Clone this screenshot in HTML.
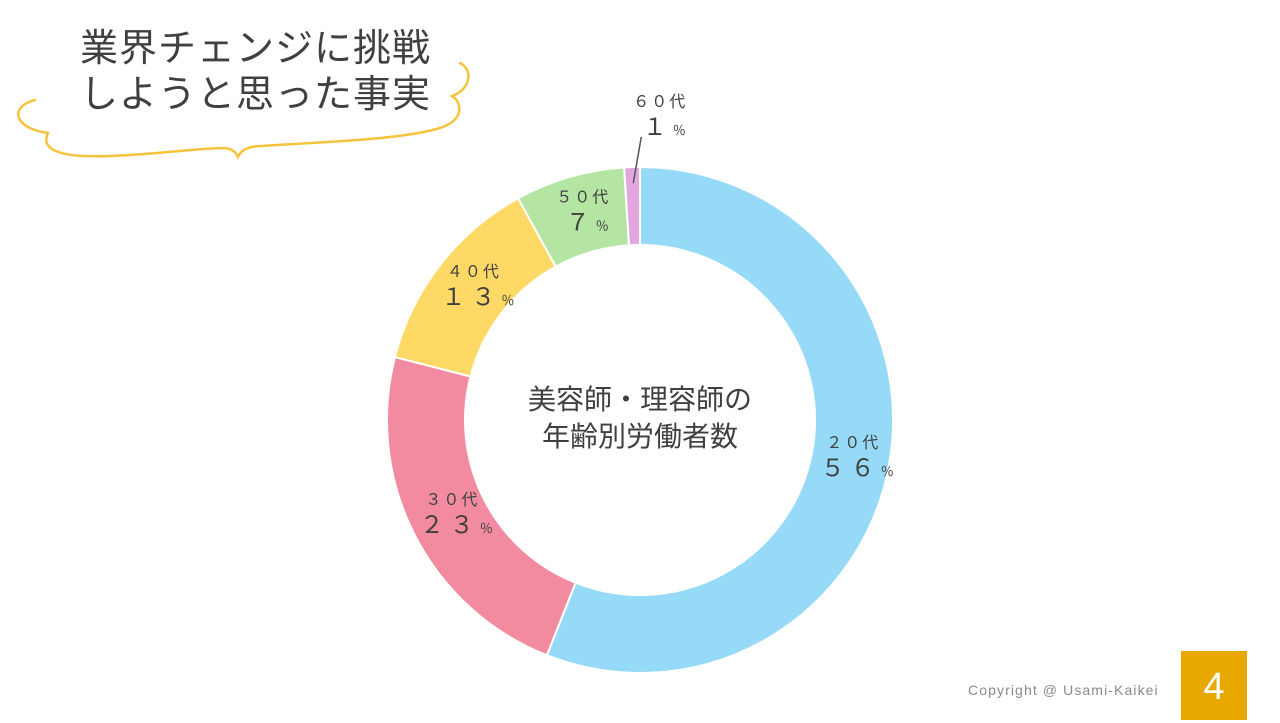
<!DOCTYPE html>
<html><head><meta charset="utf-8">
<style>
html,body{margin:0;padding:0;background:#fff;}
body{width:1280px;height:720px;position:relative;overflow:hidden;font-family:"Liberation Sans","Noto Sans CJK JP",sans-serif;color:#404040;}
.title{position:absolute;left:80px;top:26px;font-size:38px;line-height:46px;color:#404040;letter-spacing:1px;}
.copy{position:absolute;left:968px;top:682px;font-size:14px;color:#8a8a8a;letter-spacing:1.1px;}
.page{position:absolute;left:1181px;top:651px;width:66px;height:69px;background:#E9A800;color:#fff;font-size:38px;text-align:center;line-height:72px;}
</style></head><body>
<svg width="1280" height="720" style="position:absolute;left:0;top:0">
<path d="M35,100 C10,106 12,128 48,133 C40,150 60,158 110,156 C160,154 200,148 225,148 C232,149 236,152 238,157 C241,150 248,146 262,146 C320,142 400,140 440,128 C465,120 462,102 452,96 C470,90 474,70 460,63" fill="none" stroke="#F6C43C" stroke-width="2.5" stroke-linecap="round"/>
</svg>
<div class="title">業界チェンジに挑戦<br>しようと思った事実</div>
<svg id="chart" width="1280" height="720" style="position:absolute;left:0;top:0"></svg>
<div class="copy">Copyright @ Usami-Kaikei</div>
<div class="page">4</div>
<script>
const categories = ["２０代","３０代","４０代","５０代","６０代"];
const values = [56, 23, 13, 7, 1];
const valueLabels = ["５６","２３","１３","７","１"];
const colors = ["#97DAF7","#F28BA0","#FFD966","#B4E5A2","#E3A6E0"];
const NS="http://www.w3.org/2000/svg";
const svg=document.getElementById('chart');
const cx=640, cy=420, R=253, r=175;
const total=values.reduce((a,b)=>a+b,0);
function pt(rad,frac){const a=frac*2*Math.PI;return [cx+rad*Math.sin(a), cy-rad*Math.cos(a)];}
let acc=0;
values.forEach((v,i)=>{
  const f0=acc/total, f1=(acc+v)/total; acc+=v;
  const large=(f1-f0)>0.5?1:0;
  const [x0,y0]=pt(R,f0),[x1,y1]=pt(R,f1),[x2,y2]=pt(r,f1),[x3,y3]=pt(r,f0);
  const p=document.createElementNS(NS,'path');
  p.setAttribute('d',`M${x0},${y0} A${R},${R} 0 ${large} 1 ${x1},${y1} L${x2},${y2} A${r},${r} 0 ${large} 0 ${x3},${y3} Z`);
  p.setAttribute('fill',colors[i]);p.setAttribute('stroke','#fff');p.setAttribute('stroke-width','2');
  
  
  svg.appendChild(p);
  const fm=(f0+f1)/2;
  let lx,ly;
  if(v/total<0.03){
    const [ax,ay]=pt(R-(R-r)*0.5,fm);
    lx=ax+27; ly=cy-R-60;
    const ln=document.createElementNS(NS,'line');
    ln.setAttribute('x1',ax);ln.setAttribute('y1',ay-23);ln.setAttribute('x2',ax+8);ln.setAttribute('y2',ly+30);
    ln.setAttribute('stroke','#555');ln.setAttribute('stroke-width','1.5');
    
    
    svg.appendChild(ln);
  } else {
    [lx,ly]=pt((R+r)/2,fm); ly-=12; lx+=3;
  }
  const t1=document.createElementNS(NS,'text');
  t1.setAttribute('x',lx);t1.setAttribute('y',ly);t1.setAttribute('text-anchor','middle');
  t1.setAttribute('font-size','16');t1.setAttribute('fill','#404040');t1.setAttribute('letter-spacing','2');
  t1.setAttribute('font-family','"Liberation Sans","Noto Sans CJK JP",sans-serif');
  t1.textContent=categories[i];
  
  
  svg.appendChild(t1);
  const t2=document.createElementNS(NS,'text');
  t2.setAttribute('x',lx+4);t2.setAttribute('y',ly+28);t2.setAttribute('text-anchor','middle');
  t2.setAttribute('font-size','24');t2.setAttribute('fill','#404040');t2.setAttribute('letter-spacing','6');
  t2.setAttribute('font-family','"Liberation Sans","Noto Sans CJK JP",sans-serif');
  t2.innerHTML=valueLabels[i]+'<tspan font-size="13" letter-spacing="0">％</tspan>';
  
  
  svg.appendChild(t2);
});
["美容師・理容師の","年齢別労働者数"].forEach((s,k)=>{
  const t=document.createElementNS(NS,'text');
  t.setAttribute('x',cx);t.setAttribute('y',cy-11+k*37);t.setAttribute('text-anchor','middle');
  t.setAttribute('font-size','28');t.setAttribute('fill','#404040');
  t.setAttribute('font-family','"Liberation Sans","Noto Sans CJK JP",sans-serif');
  t.textContent=s;
  
  
  svg.appendChild(t);
});
</script>
</body></html>
